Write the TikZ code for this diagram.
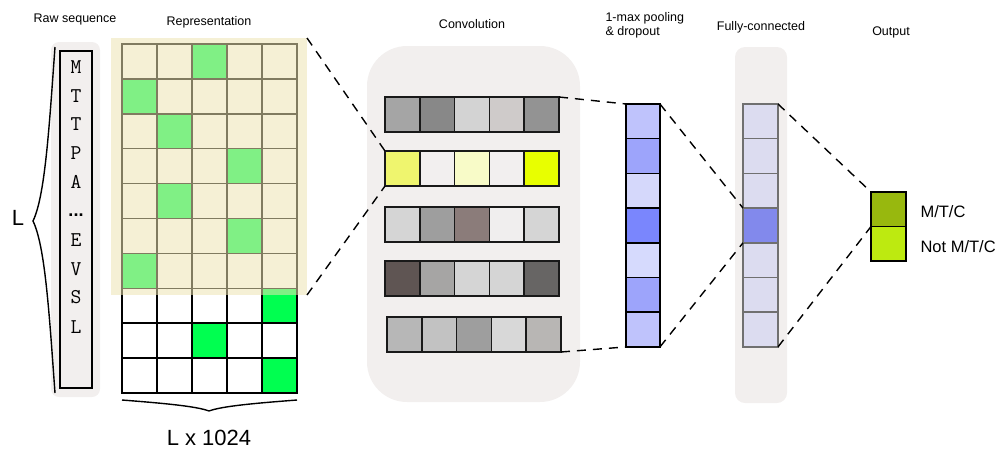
\documentclass[tikz,border=0pt]{standalone}
\usepackage{fontspec}
\setmainfont{Liberation Sans}
\usetikzlibrary{calc}

% palette
\definecolor{panel}{HTML}{F2EFEE}
\definecolor{band}{RGB}{237,228,178}
\definecolor{hot}{RGB}{0,255,80}
\definecolor{fcfill}{HTML}{DCDCF0}
\definecolor{fcedge}{HTML}{707070}
\definecolor{fchi}{HTML}{8289EC}
\definecolor{outa}{HTML}{98B80E}
\definecolor{outb}{HTML}{BDEA10}

\begin{document}
\begin{tikzpicture}[x=1pt,y=-1pt,
  box/.style={anchor=north west,inner sep=0pt,outer sep=0pt},
  cell/.style={box,draw=black,line width=1.5pt,minimum width=35pt,minimum height=34.9pt},
  ccell/.style={box,draw=black!90,line width=1.5pt,minimum width=34.8pt,minimum height=35pt},
  pcell/.style={box,draw=black,line width=1.5pt,minimum width=34pt,minimum height=34.7pt},
  fcell/.style={box,draw=fcedge,line width=1.5pt,minimum width=35pt,minimum height=34.7pt,fill=fcfill},
  ocell/.style={box,draw=black,line width=1.5pt,minimum width=35pt,minimum height=34.5pt},
  title/.style={anchor=base,font=\fontsize{12.5}{14}\selectfont},
  seq/.style={anchor=base,font=\ttfamily\fontsize{21}{21}\selectfont},
  big/.style={anchor=base,font=\fontsize{22}{24}\selectfont},
  lab/.style={anchor=base west,font=\fontsize{16.5}{18}\selectfont},
  link/.style={draw=black,line width=1.4pt,dash pattern=on 9pt off 7pt},
  bracepath/.style={draw=black,line width=1.4pt,line join=miter},
]
\useasboundingbox (0,0) rectangle (995,448);

% ---------- titles ----------
\node[title] (tRaw)  at (75,22)  {Raw sequence};
\node[title] (tRep)  at (209,25) {Representation};
\node[title] (tConv) at (472,28) {Convolution};
\node[title,anchor=base west] (tPool1) at (602,21) {1-max pooling};
\node[title,anchor=base west] (tPool2) at (602,35) {\& dropout};
\node[title] (tFC)   at (761,30) {Fully-connected};
\node[title] (tOut)  at (891,35) {Output};

% ---------- raw sequence ----------
\node[box,fill=panel,rounded corners=8pt,minimum width=49pt,minimum height=355pt] (rawbg) at (51,42) {};
\node[box,draw=black,line width=1.5pt,fill=panel,minimum width=32pt,minimum height=337pt] (rawbox) at (60,51) {};
\foreach \ch/\yy [count=\i] in {M/73,T/102,T/130,P/159,A/188,E/246,V/275,S/303,L/333}
  \node[seq] (aa\i) at (76,\yy) {\ch};
\node[anchor=base,font=\bfseries\fontsize{18}{18}\selectfont] (adots) at (76,216) {...};

% left brace and its label
\draw[bracepath] (55,47) .. controls (49,130) and (45,196) .. (33,221)
                         .. controls (45,246) and (49,310) .. (55,393);
\node[big] (Llab) at (18,225) {L};

% ---------- representation grid ----------
\foreach \r in {1,...,10}
  \foreach \c in {1,...,5}
    \node[cell,fill=white] (g-\r-\c) at ({122+35*(\c-1)},{44+34.9*(\r-1)}) {};
\foreach \r/\c in {1/3,2/1,3/2,4/4,5/2,6/4,7/1,8/5,9/3,10/5}
  \node[cell,fill=hot] (h-\r-\c) at (g-\r-\c.north west) {};
\node[box,fill=band,fill opacity=0.54,minimum width=196pt,minimum height=257pt] (band) at (111,38) {};

% bottom brace and its label
\draw[bracepath] (122,400) .. controls (160,403) and (196,406) .. (209,411)
                           .. controls (222,406) and (258,403) .. (297,400);
\node[big] (Dlab) at (209,445) {L x 1024};

% ---------- convolution ----------
\node[box,fill=panel,rounded corners=40pt,minimum width=213pt,minimum height=356pt] (convbg) at (367,46) {};
\def\convrow#1#2#3#4{%
  \foreach \col [count=\c] in {#4}
    \node[ccell,fill=\col] (c-#1-\c) at ({#2+34.8*(\c-1)},#3) {};}
\convrow{1}{385}{97}{{rgb,255:red,165;green,165;blue,165},{rgb,255:red,136;green,136;blue,136},{rgb,255:red,211;green,211;blue,211},{rgb,255:red,207;green,203;blue,202},{rgb,255:red,147;green,147;blue,147}}
\convrow{2}{385}{151}{{rgb,255:red,239;green,245;blue,110},{rgb,255:red,242;green,239;blue,239},{rgb,255:red,248;green,251;blue,200},{rgb,255:red,242;green,239;blue,239},{rgb,255:red,232;green,255;blue,0}}
\convrow{3}{385}{207}{{rgb,255:red,213;green,213;blue,213},{rgb,255:red,158;green,158;blue,158},{rgb,255:red,139;green,124;blue,122},{rgb,255:red,240;green,238;blue,238},{rgb,255:red,213;green,213;blue,213}}
\convrow{4}{385}{261}{{rgb,255:red,95;green,85;blue,83},{rgb,255:red,166;green,165;blue,164},{rgb,255:red,213;green,213;blue,213},{rgb,255:red,213;green,213;blue,213},{rgb,255:red,103;green,101;blue,100}}
\convrow{5}{387}{317}{{rgb,255:red,183;green,183;blue,183},{rgb,255:red,194;green,194;blue,194},{rgb,255:red,158;green,158;blue,158},{rgb,255:red,216;green,216;blue,216},{rgb,255:red,184;green,182;blue,180}}

% ---------- pooling column ----------
\foreach \col [count=\i] in {{rgb,255:red,191;green,195;blue,252},{rgb,255:red,157;green,164;blue,251},{rgb,255:red,213;green,216;blue,251},{rgb,255:red,122;green,134;blue,253},{rgb,255:red,214;green,218;blue,253},{rgb,255:red,157;green,164;blue,251},{rgb,255:red,191;green,195;blue,252}}
  \node[pcell,fill=\col] (p\i) at (626,{104+34.7*(\i-1)}) {};

% ---------- fully-connected column ----------
\node[box,fill=panel,rounded corners=10pt,minimum width=52pt,minimum height=356pt] (fcbg) at (735,47) {};
\foreach \i in {1,...,7}
  \node[fcell] (f\i) at (743,{104+34.7*(\i-1)}) {};
\node[fcell,fill=fchi] (f4) at (743,{104+34.7*3}) {};

% ---------- output ----------
\node[ocell,fill=outa] (o1) at (871,192) {};
\node[ocell,fill=outb] (o2) at (871,226.5) {};
\node[lab] (o1lab) at (917,217) {M/T/C};
\node[lab] (o2lab) at (917,252) {Not M/T/C};

% ---------- dashed connectors ----------
\draw[link] (band.north east) -- (c-2-1.north west);
\draw[link] (band.south east) -- (c-2-1.south west);
\draw[link] (c-1-5.north east) -- (p1.north west);
\draw[link] (c-5-5.south east) -- (p7.south west);
\draw[link] (p1.north east) -- (f4.north west);
\draw[link] (p7.south east) -- (f4.south west);
\draw[link] (f1.north east) -- (o1.north west);
\draw[link] (f7.south east) -- (o1.south west);
\end{tikzpicture}
\end{document}
